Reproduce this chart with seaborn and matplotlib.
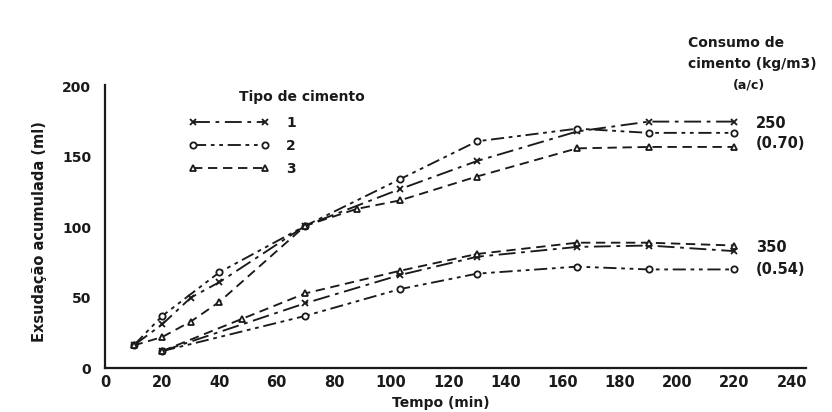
import matplotlib
matplotlib.use("Agg")
import matplotlib.pyplot as plt
from matplotlib.lines import Line2D
import seaborn as sns
import pandas as pd

# ---- data ----
tipos = ["1", "2", "3"]
consumos = ["250", "350"]

tempo_t1_250 = [10, 20, 30, 40, 70, 103, 130, 165, 190, 220]
exsud_t1_250 = [16, 31, 50, 61, 101, 127, 147, 168, 175, 175]
tempo_t2_250 = [10, 20, 40, 70, 103, 130, 165, 190, 220]
exsud_t2_250 = [16, 37, 68, 101, 134, 161, 170, 167, 167]
tempo_t3_250 = [10, 20, 30, 40, 70, 88, 103, 130, 165, 190, 220]
exsud_t3_250 = [16, 22, 33, 47, 101, 113, 119, 136, 156, 157, 157]

tempo_t1_350 = [20, 70, 103, 130, 165, 190, 220]
exsud_t1_350 = [12, 46, 66, 79, 86, 87, 83]
tempo_t2_350 = [20, 70, 103, 130, 165, 190, 220]
exsud_t2_350 = [12, 37, 56, 67, 72, 70, 70]
tempo_t3_350 = [20, 48, 70, 103, 130, 165, 190, 220]
exsud_t3_350 = [12, 35, 53, 69, 81, 89, 89, 87]

x_ticks = [0, 20, 40, 60, 80, 100, 120, 140, 160, 180, 200, 220, 240]
y_ticks = [0, 50, 100, 150, 200]

series = {
    ("1", "250"): (tempo_t1_250, exsud_t1_250),
    ("2", "250"): (tempo_t2_250, exsud_t2_250),
    ("3", "250"): (tempo_t3_250, exsud_t3_250),
    ("1", "350"): (tempo_t1_350, exsud_t1_350),
    ("2", "350"): (tempo_t2_350, exsud_t2_350),
    ("3", "350"): (tempo_t3_350, exsud_t3_350),
}
rows = []
for (tp, cs), (tt, ee) in series.items():
    for t, e in zip(tt, ee):
        rows.append({"tempo": t, "exsud": e, "tipo": tp, "consumo": cs})
df = pd.DataFrame(rows)

# ---- style ----
sns.set_style("white")
plt.rcParams["font.family"] = ["DejaVu Sans"]
INK = "#1a1a1a"

styles = {
    "1": dict(marker="x", linestyle=(0, (9, 3, 2, 3)), markersize=5, markeredgewidth=1.3),
    "2": dict(marker="o", linestyle=(0, (7, 2.5, 2, 2.5, 2, 2.5)), markersize=4.5, markeredgewidth=1.3),
    "3": dict(marker="^", linestyle=(0, (5, 3)), markersize=5, markeredgewidth=1.3),
}

fig = plt.figure(figsize=(8.32, 4.12), dpi=100)
W, H = 832, 412
x0, x1, y0, y1 = 105, 806, 368, 85
ax = fig.add_axes([x0 / W, 1 - y0 / H, (x1 - x0) / W, (y0 - y1) / H])

for (tp, cs), sub in df.groupby(["tipo", "consumo"]):
    st = styles[tp]
    sns.lineplot(data=sub, x="tempo", y="exsud", ax=ax, estimator=None,
                 color=INK, linewidth=1.35, markerfacecolor="white",
                 markeredgecolor=INK, legend=False, **st)

ax.set_xlim(0, 245)
ax.set_ylim(0, 201)
ax.set_xticks(x_ticks)
ax.set_yticks(y_ticks)
ax.set_xticklabels([str(v) for v in x_ticks], fontsize=10.5, fontweight="bold", color=INK)
ax.set_yticklabels([str(v) for v in y_ticks], fontsize=10, fontweight="bold", color=INK)
ax.tick_params(axis="x", direction="inout", length=8, width=1.2, pad=1, color=INK)
ax.tick_params(axis="y", direction="in", length=5, width=1.2, pad=10, color=INK)
sns.despine(ax=ax)
for s in ["left", "bottom"]:
    ax.spines[s].set_color(INK)
    ax.spines[s].set_linewidth(1.6)
ax.set_xlabel("")
ax.set_ylabel("")

# axis labels
fig.text(441 / W, 1 - 403 / H, "Tempo (min)", ha="center", va="center",
         fontsize=10, fontweight="bold", color=INK)
fig.text(40 / W, 1 - 232 / H, "Exsudação acumulada (ml)", ha="center", va="center",
         rotation=90, fontsize=10.5, fontweight="bold", color=INK)

# legend
handles = [Line2D([], [], color=INK, linewidth=1.35, markerfacecolor="white",
                  markeredgecolor=INK, **styles[t]) for t in tipos]
fig.text(302 / W, 1 - 97 / H, "Tipo de cimento", ha="center", va="center",
         fontsize=10, fontweight="bold", color=INK)
leg = ax.legend(handles, tipos, loc="upper left",
                bbox_to_anchor=(189 / W, 1 - 116 / H), bbox_transform=fig.transFigure,
                frameon=False, numpoints=2, handlelength=5.8, handletextpad=1.2,
                labelspacing=0.65, borderpad=0, borderaxespad=0,
                prop={"size": 10, "weight": "bold"})
for t in leg.get_texts():
    t.set_color(INK)

# right-hand annotations
fig.text(688 / W, 1 - 43 / H, "Consumo de", ha="left", va="center",
         fontsize=10, fontweight="bold", color=INK)
fig.text(688 / W, 1 - 64 / H, "cimento (kg/m3)", ha="left", va="center",
         fontsize=10, fontweight="bold", color=INK)
fig.text(749 / W, 1 - 85 / H, "(a/c)", ha="center", va="center",
         fontsize=9, fontweight="bold", color=INK)
for yy, txt in [(123, "250"), (144, "(0.70)"), (248, "350"), (269, "(0.54)")]:
    fig.text(756 / W, 1 - yy / H, txt, ha="left", va="center",
             fontsize=10.5, fontweight="bold", color=INK)

fig.savefig("out.png", dpi=100)
